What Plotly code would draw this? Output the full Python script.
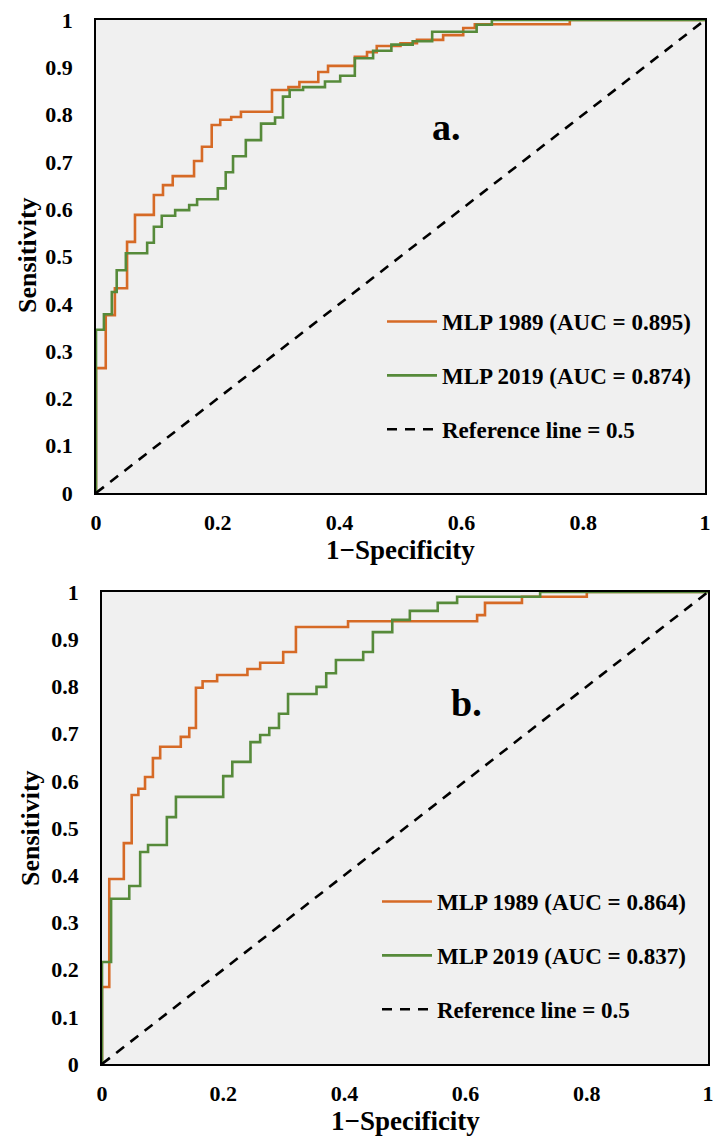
import plotly.graph_objects as go

# ---------------- data ----------------
# Panel a: ROC step points (fpr, tpr) – top of each vertical jump
a_1989_fpr = [0, 0, 0.016, 0.031, 0.051, 0.064, 0.095, 0.110, 0.126, 0.161, 0.174, 0.190, 0.204, 0.222,
              0.238, 0.289, 0.316, 0.334, 0.365, 0.381, 0.425, 0.445, 0.461, 0.500, 0.527, 0.570,
              0.603, 0.622, 0.778, 1.0]
a_1989_tpr = [0, 0.264, 0.376, 0.433, 0.531, 0.588, 0.630, 0.651, 0.670, 0.702, 0.732, 0.778, 0.789, 0.795,
              0.806, 0.852, 0.858, 0.869, 0.890, 0.903, 0.922, 0.932, 0.945, 0.951, 0.958, 0.968,
              0.983, 0.991, 1.0, 1.0]
a_2019_fpr = [0, 0, 0.013, 0.026, 0.034, 0.049, 0.084, 0.095, 0.108, 0.130, 0.153, 0.166, 0.200, 0.213,
              0.225, 0.246, 0.271, 0.294, 0.307, 0.318, 0.340, 0.376, 0.401, 0.425, 0.455, 0.485,
              0.520, 0.552, 0.625, 0.650, 1.0]
a_2019_tpr = [0, 0.345, 0.378, 0.425, 0.471, 0.507, 0.529, 0.563, 0.586, 0.598, 0.609, 0.621, 0.644, 0.678,
              0.712, 0.746, 0.781, 0.794, 0.838, 0.852, 0.858, 0.870, 0.882, 0.919, 0.935, 0.948,
              0.955, 0.975, 0.990, 1.0, 1.0]

# Panel b
b_1989_fpr = [0, 0, 0.012, 0.036, 0.049, 0.060, 0.071, 0.084, 0.096, 0.130, 0.144, 0.155, 0.166, 0.190,
              0.240, 0.261, 0.299, 0.320, 0.406, 0.619, 0.632, 0.693, 0.800, 1.0]
b_1989_tpr = [0, 0.163, 0.392, 0.468, 0.570, 0.583, 0.608, 0.648, 0.672, 0.693, 0.712, 0.797, 0.811, 0.824,
              0.837, 0.850, 0.873, 0.926, 0.938, 0.951, 0.977, 0.990, 1.0, 1.0]
b_2019_fpr = [0, 0, 0.015, 0.045, 0.063, 0.076, 0.107, 0.122, 0.200, 0.215, 0.245, 0.261, 0.276, 0.292,
              0.307, 0.354, 0.370, 0.386, 0.431, 0.447, 0.479, 0.508, 0.554, 0.586, 0.723, 1.0]
b_2019_tpr = [0, 0.216, 0.350, 0.377, 0.449, 0.464, 0.523, 0.566, 0.610, 0.640, 0.682, 0.697, 0.712, 0.742,
              0.784, 0.799, 0.828, 0.856, 0.873, 0.915, 0.941, 0.960, 0.977, 0.990, 1.0, 1.0]

ref_x = [0, 1]
ref_y = [0, 1]

names_a = ["MLP 1989 (AUC = 0.895)", "MLP 2019 (AUC = 0.874)", "Reference line = 0.5"]
names_b = ["MLP 1989 (AUC = 0.864)", "MLP 2019 (AUC = 0.837)", "Reference line = 0.5"]

x_tickvals = [0, 0.2, 0.4, 0.6, 0.8, 1]
x_ticktext = ["0", "0.2", "0.4", "0.6", "0.8", "1"]
y_tickvals = [0, 0.1, 0.2, 0.3, 0.4, 0.5, 0.6, 0.7, 0.8, 0.9, 1]
y_ticktext = ["0", "0.1", "0.2", "0.3", "0.4", "0.5", "0.6", "0.7", "0.8", "0.9", "1"]

panel_labels = ["a.", "b."]
x_title = "1\u2212Specificity"
y_title = "Sensitivity"

# ---------------- style ----------------
W, H = 713, 1138
ORANGE = "rgb(214,106,38)"
GREEN = "rgb(86,138,58)"
FONT = "Liberation Serif"
LW = 2.6

fig = go.Figure()

def add_panel(xa, ya, legend, f89, t89, f19, t19, names):
    fig.add_trace(go.Scatter(x=f89, y=t89, mode="lines", line=dict(color=ORANGE, width=LW, shape="hv"),
                             name=names[0], xaxis=xa, yaxis=ya, legend=legend, legendgroup=legend + "1"))
    fig.add_trace(go.Scatter(x=f19, y=t19, mode="lines", line=dict(color=GREEN, width=LW, shape="hv"),
                             name=names[1], xaxis=xa, yaxis=ya, legend=legend, legendgroup=legend + "2"))
    fig.add_trace(go.Scatter(x=ref_x, y=ref_y, mode="lines",
                             line=dict(color="black", width=2.6, dash="10px,8px"),
                             name=names[2], xaxis=xa, yaxis=ya, legend=legend, legendgroup=legend + "3"))

add_panel("x", "y", "legend", a_1989_fpr, a_1989_tpr, a_2019_fpr, a_2019_tpr, names_a)
add_panel("x2", "y2", "legend2", b_1989_fpr, b_1989_tpr, b_2019_fpr, b_2019_tpr, names_b)

tickfont = dict(family=FONT, size=22, color="black", weight="bold")

def xax(domain, anchor):
    return dict(domain=domain, anchor=anchor, range=[0, 1], tickvals=x_tickvals, ticktext=x_ticktext,
                showgrid=False, zeroline=False, showline=True, mirror=True, linecolor="black",
                linewidth=1.5, ticks="", tickfont=tickfont, ticklabelstandoff=9, layer="below traces",
                fixedrange=True, automargin=False, ticklabeloverflow="allow")

def yax(domain, anchor):
    return dict(domain=domain, anchor=anchor, range=[0, 1], tickvals=y_tickvals, ticktext=y_ticktext,
                showgrid=False, zeroline=False, showline=True, mirror=True, linecolor="black",
                linewidth=1.5, ticks="", tickfont=tickfont, ticklabelstandoff=17, layer="below traces",
                fixedrange=True, automargin=False, ticklabeloverflow="allow")

# pixel geometry of plot areas
a_l, a_r, a_t, a_b = 96, 705, 20, 493
b_l, b_r, b_t, b_b = 102, 708, 592, 1064

legfont = dict(family=FONT, size=23, color="black", weight="bold")

fig.update_layout(
    width=W, height=H, margin=dict(l=0, r=0, t=0, b=0, autoexpand=False),
    paper_bgcolor="white", plot_bgcolor="rgb(240,240,240)",
    xaxis=xax([a_l / W, a_r / W], "y"),
    yaxis=yax([1 - a_b / H, 1 - a_t / H], "x"),
    xaxis2=xax([b_l / W, b_r / W], "y2"),
    yaxis2=yax([1 - b_b / H, 1 - b_t / H], "x2"),
    legend=dict(x=382 / W, y=1 - 300 / H, xanchor="left", yanchor="top", bgcolor="rgba(0,0,0,0)",
                font=legfont, itemwidth=50, tracegroupgap=21, traceorder="grouped"),
    legend2=dict(x=377 / W, y=1 - 880 / H, xanchor="left", yanchor="top", bgcolor="rgba(0,0,0,0)",
                 font=legfont, itemwidth=50, tracegroupgap=21, traceorder="grouped"),
    showlegend=True,
)

xt_font = dict(family=FONT, size=27, color="black", weight="bold")
yt_font = dict(family=FONT, size=26, color="black", weight="bold")
label_font = dict(family=FONT, size=38, color="black", weight="bold")

common = dict(showarrow=False, xanchor="center", yanchor="middle")
annotations = [
    dict(text=panel_labels[0], x=0.575, y=0.774, xref="x", yref="y", font=label_font, **common),
    dict(text=panel_labels[1], x=0.602, y=0.765, xref="x2", yref="y2", font=label_font, **common),
    dict(text=x_title, x=400 / W, y=1 - 550 / H, xref="paper", yref="paper", font=xt_font, **common),
    dict(text=x_title, x=405 / W, y=1 - 1121 / H, xref="paper", yref="paper", font=xt_font, **common),
    dict(text=y_title, x=27 / W, y=1 - 255 / H, xref="paper", yref="paper", textangle=-90,
         font=yt_font, **common),
    dict(text=y_title, x=30 / W, y=1 - 828 / H, xref="paper", yref="paper", textangle=-90,
         font=yt_font, **common),
]
fig.update_layout(annotations=annotations)

fig.write_html("out.html", config={"displayModeBar": False},
               post_script="document.body.style.margin='0';")
